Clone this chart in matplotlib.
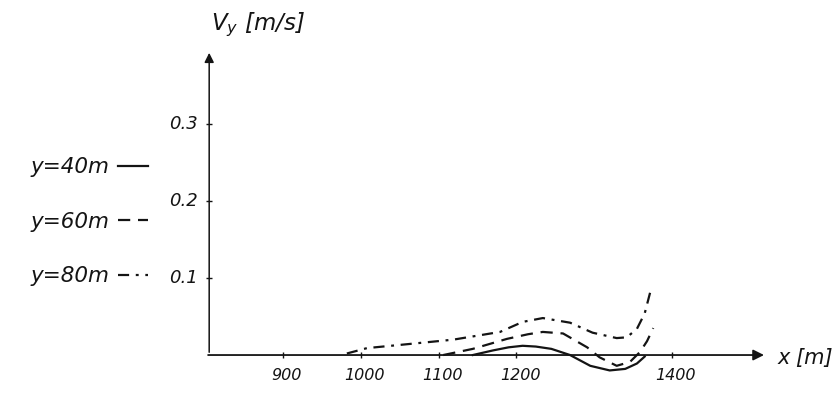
import matplotlib.pyplot as plt

# tick values
x_ticks = [900, 1000, 1100, 1200, 1400]
y_ticks = [0.1, 0.2, 0.3]
y_tick_labels = ['0.1', '0.2', '0.3']

# y = 40 m (solid)
x40 = [1144, 1170, 1190, 1208, 1225, 1245, 1269, 1295, 1320, 1340, 1355, 1365]
v40 = [0.0, 0.006, 0.010, 0.012, 0.011, 0.008, 0.0, -0.014, -0.020, -0.018, -0.011, -0.002]

# y = 60 m (dashed)
x60 = [1106, 1144, 1188, 1215, 1234, 1260, 1291, 1307, 1329, 1346, 1359, 1368, 1376]
v60 = [0.0, 0.008, 0.021, 0.027, 0.030, 0.028, 0.010, -0.003, -0.014, -0.009, 0.004, 0.018, 0.035]

# y = 80 m (dash-dot)
x80 = [982, 1008, 1059, 1119, 1179, 1208, 1234, 1269, 1298, 1329, 1342, 1355, 1365, 1374]
v80 = [0.002, 0.009, 0.014, 0.020, 0.030, 0.043, 0.048, 0.042, 0.029, 0.022, 0.023, 0.034, 0.054, 0.089]

ink = '#141414'
plt.rcParams['font.family'] = ['DejaVu Sans']

fig = plt.figure(figsize=(8.36, 3.96), dpi=100)
ax = fig.add_axes([0, 0, 1, 1])
ax.set_xlim(536, 1611)
ax.set_ylim(-0.0532, 0.461)
ax.axis('off')

# axes drawn as arrows
ax.annotate('', xy=(1522, 0), xytext=(800, 0),
            arrowprops=dict(arrowstyle='-|>', color=ink, lw=1.3, mutation_scale=16))
ax.annotate('', xy=(805, 0.396), xytext=(805, 0),
            arrowprops=dict(arrowstyle='-|>', color=ink, lw=1.1, mutation_scale=14))

ax.plot(x_ticks, [0] * len(x_ticks), ls='none', marker='|', ms=4, color=ink)
ax.plot([805] * len(y_ticks), y_ticks, ls='none', marker='_', ms=5, color=ink)

for t in x_ticks:
    ax.text(t + 5, -0.026, str(t), ha='center', va='center', fontsize=11.5,
            style='italic', color=ink)
for t, lab in zip(y_ticks, y_tick_labels):
    ax.text(790, t, lab, ha='right', va='center', fontsize=13,
            style='italic', color=ink)

ax.text(1536, -0.004, 'x [m]', ha='left', va='center', fontsize=15,
        style='italic', color=ink)
ax.text(807, 0.429, r'V$_y$ [m/s]', ha='left', va='center', fontsize=16.5,
        style='italic', color=ink)

ax.plot(x40, v40, color=ink, lw=1.6, ls='-', label='y=40m')
ax.plot(x60, v60, color=ink, lw=1.6, ls=(0, (5.5, 3.5)), label='y=60m')
ax.plot(x80, v80, color=ink, lw=1.6, ls=(0, (5, 3, 1.3, 3)), label='y=80m')

leg = ax.legend(loc='center left', bbox_to_anchor=(0.036, 0.44), frameon=False,
                markerfirst=False, fontsize=15.5, handlelength=1.4,
                labelspacing=1.6, handletextpad=0.4, borderpad=0,
                borderaxespad=0)
for txt in leg.get_texts():
    txt.set_style('italic')
    txt.set_color(ink)

fig.savefig('out.png', dpi=100, facecolor='white')
